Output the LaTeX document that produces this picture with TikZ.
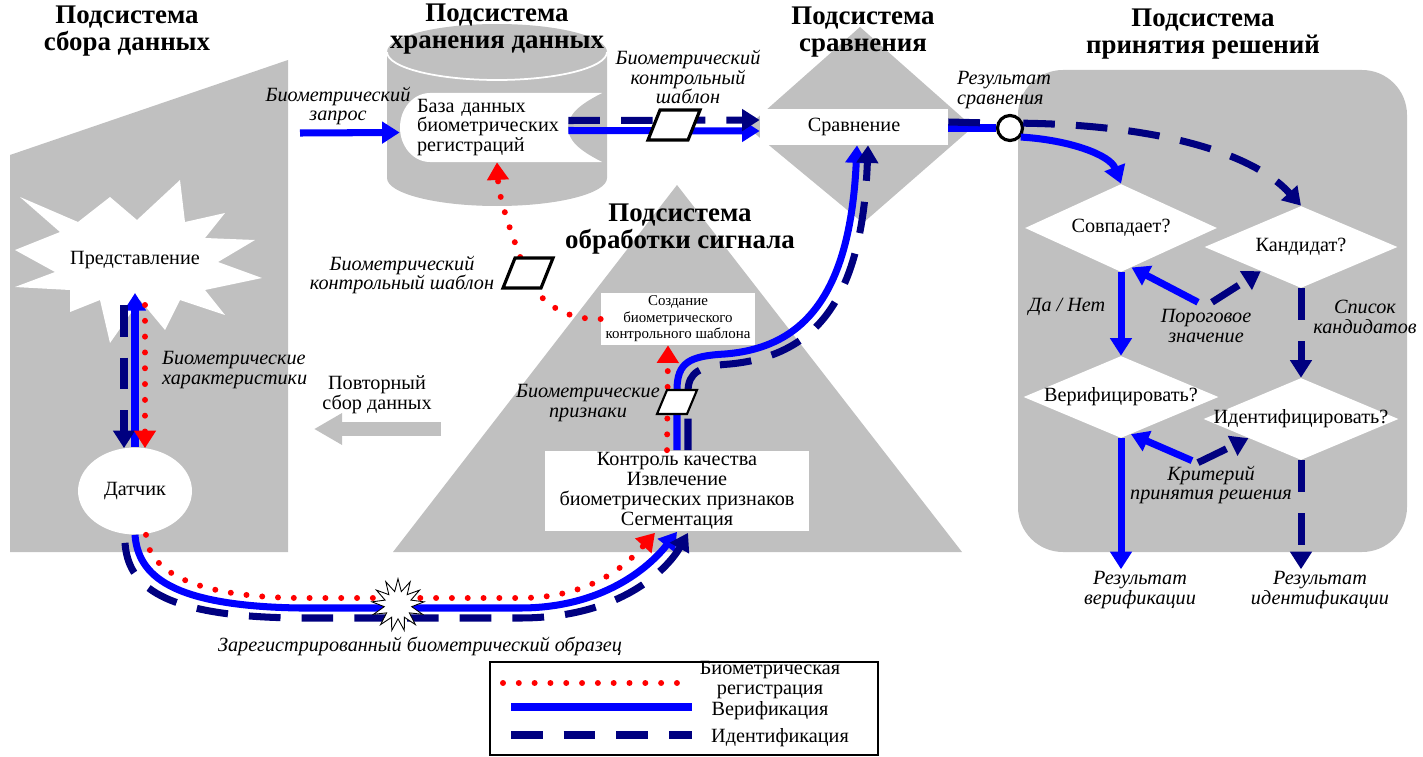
\documentclass[tikz,border=0pt]{standalone}
\usepackage{fontspec}
\setmainfont{Liberation Serif}
\usetikzlibrary{arrows.meta,shapes.geometric,calc,positioning}
\definecolor{panel}{RGB}{192,192,192}
\definecolor{navy}{RGB}{0,0,128}
\definecolor{vblue}{RGB}{0,0,255}
\definecolor{rred}{RGB}{255,0,0}
\newcommand{\subsysfnt}{\fontsize{15.3}{15.3}\bfseries\selectfont}
\newcommand{\bodyfnt}{\fontsize{11.5}{11.3}\selectfont}
\newcommand{\notefnt}{\fontsize{11.5}{11.3}\itshape\selectfont}
\newcommand{\smallfnt}{\fontsize{8.5}{9.4}\selectfont}
\begin{document}
\begin{tikzpicture}[
    x=0.02cm, y=-0.02cm,
    ver/.style={draw=vblue, line width=4pt},
    ide/.style={draw=navy, line width=4pt, dash pattern=on 18pt off 12pt},
    reg/.style={draw=rred, line width=3.4pt, line cap=round, dash pattern=on 0pt off 9pt},
    arr/.style={-{Triangle[width=12pt,length=10pt]}},
    box/.style={fill=white, inner sep=0pt, align=center, font=\bodyfnt},
    dia/.style={diamond, fill=white, inner sep=0pt},
    note/.style={font=\notefnt, align=center, inner sep=1pt},
    subsys/.style={font=\subsysfnt, align=center},
    tmpl/.style={draw=black, line width=1.8pt, fill=white, line join=miter},
    ]
\fill[white] (0,0) rectangle (1423,757);
\useasboundingbox (0,0) rectangle (1423,757);
\fill[panel] (10,155) -- (288,60) -- (288,552) -- (10,552) -- cycle;
\fill[panel] (387,52) -- (387,178) arc[start angle=180, end angle=0, x radius=110, y radius=28] -- (607,52) arc[start angle=0, end angle=-180, x radius=110, y radius=28] -- cycle;
\draw[white, line width=1pt] (387,52) arc[start angle=180, end angle=0, x radius=110, y radius=28];
\fill[panel] (677,185) -- (962,552) -- (393,552) -- cycle;
\fill[panel] (860,27) -- (973,127) -- (863,223) -- (747,127) -- cycle;
\fill[panel, rounded corners=0.9cm] (1018,70) rectangle (1407,552);
\fill[white] (15,250) -- (60,232) -- (20,197) -- (78,222) -- (110,197) -- (137,220) -- (180,180) -- (185,222) -- (225,213) -- (205,238) -- (255,240) -- (218,262) -- (262,278) -- (205,290) -- (225,315) -- (180,300) -- (165,330) -- (140,300) -- (110,343) -- (100,300) -- (70,312) -- (70,290) -- (15,287) -- (55,272) -- cycle;
\fill[white] (430,93) -- (602,93) .. controls (578,105) and (568,115) .. (568,127.5) .. controls (568,140) and (578,150) .. (602,162) -- (430,162) arc[start angle=90, end angle=270, x radius=30, y radius=34.5] -- cycle;

\node[subsys] (t-acq) at (127,31) {Подсистема\\сбора данных};
\node[subsys] (t-store) at (497,29) {Подсистема\\хранения данных};
\node[subsys] (t-cmp) at (863,32) {Подсистема\\сравнения};
\node[subsys] (t-dec) at (1203,34) {Подсистема\\принятия решений};
\node[subsys] (t-sig) at (680,229) {Подсистема\\обработки сигнала};

\node[font=\bodyfnt] (repr) at (135,260) {Представление};
\node[ellipse, fill=white, minimum width=2.28cm, minimum height=1.74cm, inner sep=0pt, font=\bodyfnt] (sensor) at (135,491) {Датчик};
\node[font=\bodyfnt, align=left, text width=3.36cm, inner xsep=0.34cm, inner ysep=0pt, minimum height=1.38cm] (db) at (501,127.5) {База данных\\биометрических\\регистраций};
\node[box, minimum width=3.76cm, minimum height=0.72cm] (cmp) at (854,127) {Сравнение};
\node[box, minimum width=3.08cm, minimum height=1.04cm, font=\smallfnt] (create) at (678,319) {Создание\\биометрического\\контрольного шаблона};
\node[box, minimum width=5.3cm, minimum height=1.62cm] (proc) at (677,491) {Контроль качества\\Извлечение\\биометрических признаков\\Сегментация};
\node[dia, minimum width=3.84cm, minimum height=1.76cm] (match) at (1121,228) {};
\node[font=\bodyfnt] (match-t) at (match) {Совпадает?};
\node[dia, minimum width=3.86cm, minimum height=1.64cm] (cand) at (1301,247) {};
\node[font=\bodyfnt] (cand-t) at (cand) {Кандидат?};
\node[dia, minimum width=3.9cm, minimum height=1.64cm] (verify) at (1121,397) {};
\node[font=\bodyfnt] (verify-t) at (verify) {Верифицировать?};
\node[dia, minimum width=3.9cm, minimum height=1.64cm] (ident) at (1301,419) {};
\node[font=\bodyfnt] (ident-t) at (ident) {Идентифицировать?};
\node[circle, draw=black, line width=1.8pt, fill=white, minimum size=0.5cm, inner sep=0pt] (res) at (1010,128) {};

\node[note] (query) at (338,106) {Биометрический\\запрос};
\node[note] (tpl1-lbl) at (688,77) {Биометрический\\контрольный\\шаблон};
\node[note, align=left, anchor=west] (res-lbl) at (955,90) {Результат\\сравнения};
\node[note, align=left, anchor=west] (feat-lbl) at (160,370) {Биометрические\\характеристики};
\node[note] (tpl2-lbl) at (402,275) {Биометрический\\контрольный шаблон};
\node[note] (feat2-lbl) at (588,403) {Биометрические\\признаки};
\node[note] (sample-lbl) at (420,646) {Зарегистрированный биометрический образец};
\node[note] (yesno) at (1067,307) {Да / Нет};
\node[note] (thresh) at (1206,326) {Пороговое\\значение};
\node[note] (cands) at (1365,317) {Список\\кандидатов};
\node[note] (crit) at (1211,485) {Критерий\\принятия решения};
\node[note] (vres) at (1140,590) {Результат\\верификации};
\node[note] (ires) at (1320,590) {Результат\\идентификации};
\node[font=\bodyfnt, align=center] (retry) at (377,395) {Повторный\\сбор данных};

\coordinate (qin) at (300,133);
\coordinate (rt0) at (441,429);
\coordinate (rt1) at (314,429);
\draw[panel, line width=8pt, -{Triangle[width=17pt,length=16pt]}] (rt0) -- (rt1);

\draw[ver, arr] (sensor.north) -- ($(repr)+(0,33)$);
\draw[ide, arr] ($(repr)+(-11,45)$) -- ($(sensor.north)+(-11,1)$);
\draw[reg, arr] ($(repr)+(10,45)$) -- ($(sensor.north)+(10,1)$);

\draw[ver, arr] (sensor.south) .. controls (138,575) and (170,606) .. (300,608) -- (520,608) .. controls (610,608) and (655,560) .. (proc.south);
\draw[reg, arr] ($(sensor.south)+(11,0)$) .. controls (148,567) and (185,597) .. (300,598) -- (520,598) .. controls (600,598) and (635,555) .. ($(proc.south)+(-22,1)$);
\draw[ide, arr] ($(sensor.south)+(-10,8)$) .. controls (128,585) and (160,617) .. (300,618) -- (520,618) .. controls (625,618) and (670,565) .. ($(proc.south)+(11,1)$);
\node[star, star points=13, star point ratio=1.9, minimum size=1.05cm, draw=black, line width=0.5pt, fill=white, inner sep=0pt] (sample) at (398,605) {};

\draw[reg, arr] ($(proc.north)+(-10,0)$) -- ($(create.south)+(-10,0)$);
\draw[ver, arr] (proc.north) -- (677,390) .. controls (677,362) and (690,356) .. (725,354) .. controls (800,348) and (850,300) .. ($(cmp.south)+(3,0)$);
\draw[ide, arr] ($(proc.north)+(11,0)$) -- (688,392) .. controls (688,372) and (700,366) .. (730,364) .. controls (812,356) and (862,305) .. ($(cmp.south)+(14,0)$);
\coordinate (tpl3) at (677,402);
\filldraw[tmpl, line width=1.2pt] ($(tpl3)+(-20,12)$) -- ($(tpl3)+(10,12)$) -- ($(tpl3)+(20,-12)$) -- ($(tpl3)+(-10,-12)$) -- cycle;

\draw[reg, arr] (create.west) .. controls (560,320) and (535,298) .. (525,270) .. controls (512,235) and (499,200) .. ($(db.south)+(-4,0)$);
\coordinate (tpl2) at (528,273);
\filldraw[tmpl] ($(tpl2)+(-25,15)$) -- ($(tpl2)+(13,15)$) -- ($(tpl2)+(25,-15)$) -- ($(tpl2)+(-13,-15)$) -- cycle;

\draw[ver, arr] (qin) -- ($(db.west)+(0,5)$);
\draw[ver, arr] ($(db.east)+(-34,3)$) -- ($(cmp.west)+(0,4)$);
\draw[ide, arr] ($(db.east)+(-34,-7)$) -- ($(cmp.west)+(0,-7)$);
\coordinate (tpl1) at (674,125);
\filldraw[tmpl] ($(tpl1)+(-26,15)$) -- ($(tpl1)+(14,15)$) -- ($(tpl1)+(26,-15)$) -- ($(tpl1)+(-14,-15)$) -- cycle;

\draw[ver] ($(cmp.east)+(0,1)$) -- (res.west);
\draw[ide] ($(cmp.east)+(0,-5)$) -- (res.160);
\draw[ver, arr] (res.-40) .. controls (1070,140) and (1110,155) .. (match.north);
\draw[ide, arr] (res.20) .. controls (1150,125) and (1250,150) .. (cand.north);

\draw[ver, arr] (match.south) -- (verify.north);
\draw[ide, arr] (cand.south) -- (ident.north);
\draw[ver, arr] ($(thresh.north)+(-8,-5)$) -- (match.-75);
\draw[ide, arr] ($(thresh.north)+(6,-5)$) -- (cand.-149);
\draw[ver, arr] ($(crit.north)+(-19,-3)$) -- (verify.-75);
\draw[ide, arr] ($(crit.north)+(-13,-1)$) -- (ident.-160);
\draw[ver, arr] (verify.south) -- (verify.south |- vres.north);
\draw[ide, arr] (ident.south) -- (ident.south |- ires.north);

\node[draw=black, line width=0.8pt, minimum width=7.76cm, minimum height=1.86cm, inner sep=0pt] (legend) at (684,708.5) {};
\draw[reg] (503,683) -- (678,683);
\draw[ver] (511,707) -- (692,707);
\draw[ide] (511,735) -- (692,735);
\node[font=\bodyfnt, align=center] (lg-reg) at (770,680) {Биометрическая\\регистрация};
\node[font=\bodyfnt] (lg-ver) at (770,711) {Верификация};
\node[font=\bodyfnt] (lg-ide) at (780,738) {Идентификация};
\end{tikzpicture}
\end{document}
